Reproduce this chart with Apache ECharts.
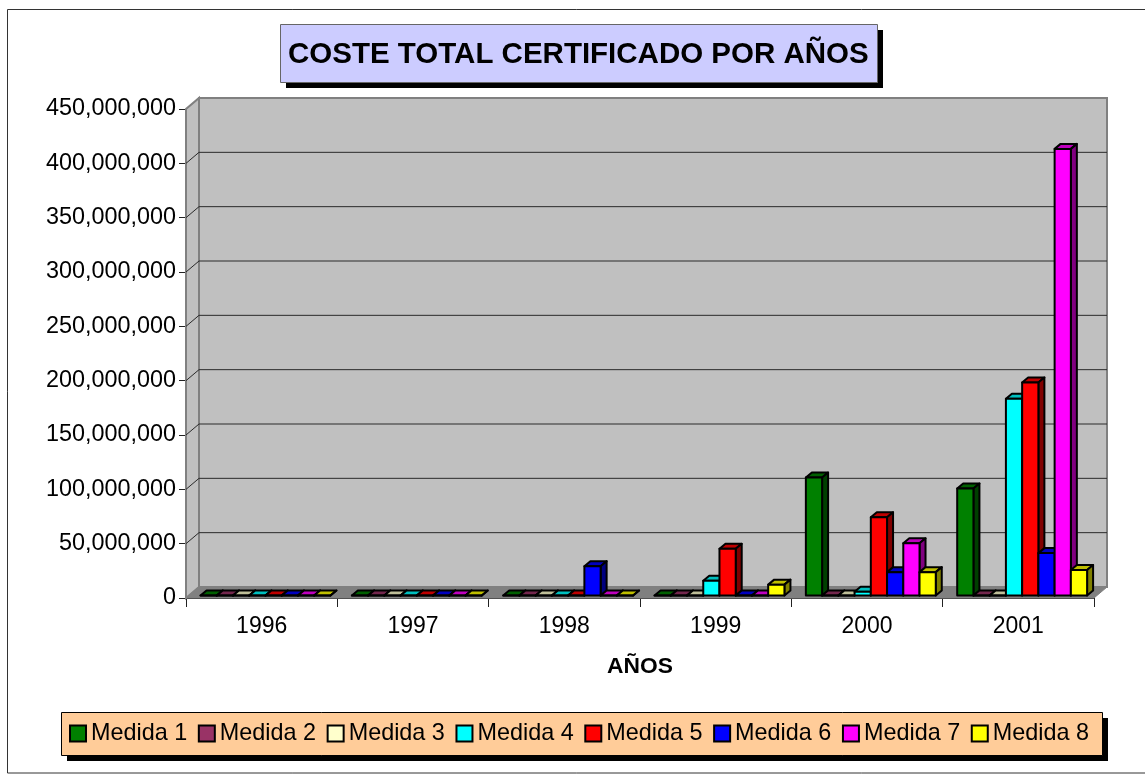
<!DOCTYPE html>
<html><head><meta charset="utf-8">
<style>html,body{margin:0;padding:0;background:#fff}#c{width:1145px;height:774px}</style>
<script src="https://cdn.jsdelivr.net/npm/echarts@6/dist/echarts.min.js"></script>
</head><body><div id="c"></div>
<script>
const years = ['1996','1997','1998','1999','2000','2001'];
const chartTitle = 'COSTE TOTAL CERTIFICADO POR AÑOS';
const xTitle = 'AÑOS';
const seriesNames = ['Medida 1','Medida 2','Medida 3','Medida 4','Medida 5','Medida 6','Medida 7','Medida 8'];
const colors = ['#008000','#993366','#FFFFCC','#00FFFF','#FF0000','#0000FF','#FF00FF','#FFFF00'];
const medida1 = [0,0,0,0,108500000,98500000];
const medida2 = [0,0,0,0,0,0];
const medida3 = [0,0,0,0,0,0];
const medida4 = [0,0,0,13500000,3500000,181000000];
const medida5 = [0,0,0,43000000,72000000,196000000];
const medida6 = [0,0,27000000,0,21500000,39000000];
const medida7 = [0,0,0,0,48000000,411000000];
const medida8 = [0,0,0,10000000,21500000,23500000];
const allValues = [medida1,medida2,medida3,medida4,medida5,medida6,medida7,medida8];
const yTicks = [0,50000000,100000000,150000000,200000000,250000000,300000000,350000000,400000000,450000000];

const font = '"Liberation Sans", Arial, sans-serif';
const DX = 13, DY = -11;          // 3D wall offset
const BAR_DX = 6, BAR_DY = -5;    // bar depth
function shade(hex, f){
  const n = parseInt(hex.slice(1),16);
  const c = [n>>16&255,n>>8&255,n&255].map(v=>Math.round(v*f));
  return 'rgb('+c.join(',')+')';
}
function wallItem(params, api){
  const cs = params.coordSys, v = api.value(1);
  const y = api.coord([0, v])[1];
  const L = cs.x, R = cs.x + cs.width, T = cs.y, B = cs.y + cs.height;
  const kids = [];
  if (params.dataIndex === 0){
    kids.push({type:'polygon',shape:{points:[[L,B],[L+DX,B+DY],[L+DX,T+DY],[L,T]]},style:{fill:'#C0C0C0',stroke:'#808080',lineWidth:2}});
    kids.push({type:'polygon',shape:{points:[[L+DX,B+DY],[R+DX,B+DY],[R+DX,T+DY],[L+DX,T+DY]]},style:{fill:'#C0C0C0',stroke:'#808080',lineWidth:2}});
    kids.push({type:'polygon',shape:{points:[[L,B],[L+DX,B+DY],[R+DX,B+DY],[R,B]]},style:{fill:'#808080',stroke:'#808080',lineWidth:1}});
  } else if (v < 450000000){
    kids.push({type:'polyline',shape:{points:[[L,y],[L+DX,y+DY],[R+DX,y+DY]]},style:{fill:null,stroke:'#2a2a2a',lineWidth:1}});
  }
  return {type:'group',children:kids};
}
function barRenderer(k){
  return function(params, api){
    const cat = api.value(0), v = api.value(1);
    const band = api.size([1,0])[0];
    const c = api.coord([cat, v]), z = api.coord([cat, 0]);
    const w = band * 0.1073;
    const x0 = z[0] - band/2 + band*0.096 + k*w, x1 = x0 + w;
    const yb = z[1] - 2.5, yt = c[1] - 2.5;
    const col = colors[k];
    const st = (fill)=>({fill:fill,stroke:'#000',lineWidth:2,lineJoin:'round'});
    return {type:'group',children:[
      {type:'polygon',shape:{points:[[x0,yt],[x0+BAR_DX,yt+BAR_DY],[x1+BAR_DX,yt+BAR_DY],[x1,yt]]},style:st(shade(col,0.75))},
      {type:'polygon',shape:{points:[[x1,yt],[x1+BAR_DX,yt+BAR_DY],[x1+BAR_DX,yb+BAR_DY],[x1,yb]]},style:st(shade(col,0.5))},
      {type:'rect',shape:{x:x0,y:yt,width:w,height:yb-yt},style:st(col)}
    ]};
  };
}
const series = [{
  type:'custom', name:'wall', silent:true, z:1,
  data: yTicks.map(t=>[0,t]), encode:{x:0,y:1}, renderItem: wallItem
}];
seriesNames.forEach((name,k)=>{
  series.push({
    type:'custom', name:name, z:3, legendIcon:'rect',
    itemStyle:{color:colors[k]},
    encode:{x:0,y:1},
    data: allValues[k].map((v,i)=>[i,v]),
    renderItem: barRenderer(k)
  });
});
function box(x,y,w,h,fill,stroke){
  return [
    {type:'rect',z:2,silent:true,shape:{x:x+6,y:y+6,width:w,height:h},style:{fill:'#000'}},
    {type:'rect',z:2,silent:true,shape:{x:x+0.5,y:y+0.5,width:w,height:h},style:{fill:fill,stroke:stroke,lineWidth:1}}
  ];
}
const chart = echarts.init(document.getElementById('c'), null, {renderer:'canvas'});
chart.setOption({
  animation:false,
  backgroundColor:'#fff',
  title:{
    text:chartTitle, left:288, top:40, padding:0,
    textStyle:{fontFamily:font,fontSize:29.5,fontWeight:'bold',color:'#000',lineHeight:30}
  },
  legend:{
    data:seriesNames, left:69, top:722,
    padding:0,
    itemGap:10.6, itemWidth:16, itemHeight:16, icon:'rect',
    itemStyle:{borderColor:'#000',borderWidth:2},
    textStyle:{fontFamily:font,fontSize:23.4,color:'#000'}
  },
  grid:{left:186,right:51,top:109,bottom:176,containLabel:false},
  xAxis:{
    type:'category', data:years, boundaryGap:true,
    name:xTitle, nameLocation:'middle', nameGap:57,
    nameTextStyle:{fontFamily:font,fontSize:22.8,fontWeight:'bold',color:'#000'},
    axisLine:{show:true,lineStyle:{color:'#222',width:1}},
    axisTick:{show:true,length:9,alignWithLabel:false,lineStyle:{color:'#222'}},
    axisLabel:{fontFamily:font,fontSize:23,color:'#000',margin:17},
    splitLine:{show:false}
  },
  yAxis:{
    type:'value', min:0, max:450000000, interval:50000000,
    axisLine:{show:true,lineStyle:{color:'#222',width:1}},
    axisTick:{show:true,length:7,lineStyle:{color:'#222'}},
    axisLabel:{fontFamily:font,fontSize:23.4,color:'#000',margin:10,
      formatter:v=>v.toLocaleString('en-US')},
    splitLine:{show:false}
  },
  graphic:[
    {type:'rect',z:-10,silent:true,shape:{x:7.5,y:9.5,width:1145,height:763.5},style:{fill:'#fff',stroke:'#333',lineWidth:1}},
    ...box(280,24,597,58,'#CCCCFF','#666'),
    ...box(61,712,1041,43,'#FFCC99','#000')
  ],
  series:series
});
</script></body></html>
